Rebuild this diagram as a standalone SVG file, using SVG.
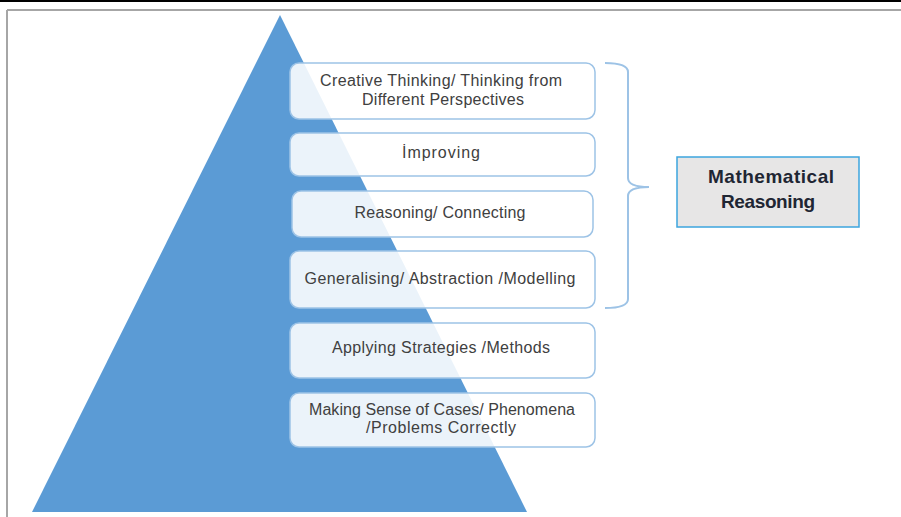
<svg xmlns="http://www.w3.org/2000/svg" width="901" height="517" viewBox="0 0 901 517">
  <style>
    .step { fill: #ffffff; fill-opacity: 0.88; stroke: #9DC3E6; stroke-width: 1.5; }
    .lbl { font-family: "Liberation Sans", Arial, sans-serif; font-size: 16px; fill: #404040; text-anchor: middle; }
    .big { font-family: "Liberation Sans", Arial, sans-serif; font-size: 19px; font-weight: bold; fill: #1F2633; text-anchor: middle; }
    .brace { fill: none; stroke: #9DC3E6; stroke-width: 2; }
  </style>
  <rect x="0" y="0" width="901" height="517" fill="#ffffff"/>
  <!-- frame -->
  <line x1="0" y1="1" x2="901" y2="1" stroke="#000000" stroke-width="2"/>
  <line x1="7" y1="10" x2="901" y2="10" stroke="#A6A6A6" stroke-width="2"/>
  <line x1="7" y1="10" x2="7" y2="517" stroke="#A6A6A6" stroke-width="2"/>

  <g id="pyramid">
    <polygon points="280,15 32,512 527,512" fill="#5B9BD5"/>
  </g>

  <g id="step-creative">
    <rect class="step" x="290" y="63" width="305" height="56" rx="9"/>
    <text class="lbl" x="441" y="86" textLength="242">Creative Thinking/ Thinking from</text>
    <text class="lbl" x="443" y="105" textLength="162">Different Perspectives</text>
  </g>
  <g id="step-improving">
    <rect class="step" x="290" y="133" width="305" height="43" rx="9"/>
    <text class="lbl" x="441" y="158" textLength="78">İmproving</text>
  </g>
  <g id="step-reasoning">
    <rect class="step" x="292" y="191" width="301" height="46" rx="9"/>
    <text class="lbl" x="440" y="218" textLength="171">Reasoning/ Connecting</text>
  </g>
  <g id="step-generalising">
    <rect class="step" x="290" y="251" width="305" height="57" rx="9"/>
    <text class="lbl" x="440" y="284" textLength="271">Generalising/ Abstraction /Modelling</text>
  </g>
  <g id="step-applying">
    <rect class="step" x="290" y="323" width="305" height="55" rx="9"/>
    <text class="lbl" x="441" y="353" textLength="218">Applying Strategies /Methods</text>
  </g>
  <g id="step-making-sense">
    <rect class="step" x="290" y="393" width="305" height="54" rx="9"/>
    <text class="lbl" x="442" y="415" textLength="266">Making Sense of Cases/ Phenomena</text>
    <text class="lbl" x="441" y="433" textLength="150">/Problems Correctly</text>
  </g>

  <g id="connectors">
    <path class="brace" d="M605,63 Q628,63 628,72 L628,178 Q628,187 649,187 Q628,187 628,196 L628,299 Q628,308 605,308"/>
  </g>

  <g id="mathematical-reasoning">
    <rect x="677" y="157" width="182" height="70" fill="#E7E6E6" stroke="#3DA5DE" stroke-width="1.5"/>
    <text class="big" x="771" y="183" textLength="126">Mathematical</text>
    <text class="big" x="768" y="208" textLength="94">Reasoning</text>
  </g>
</svg>
